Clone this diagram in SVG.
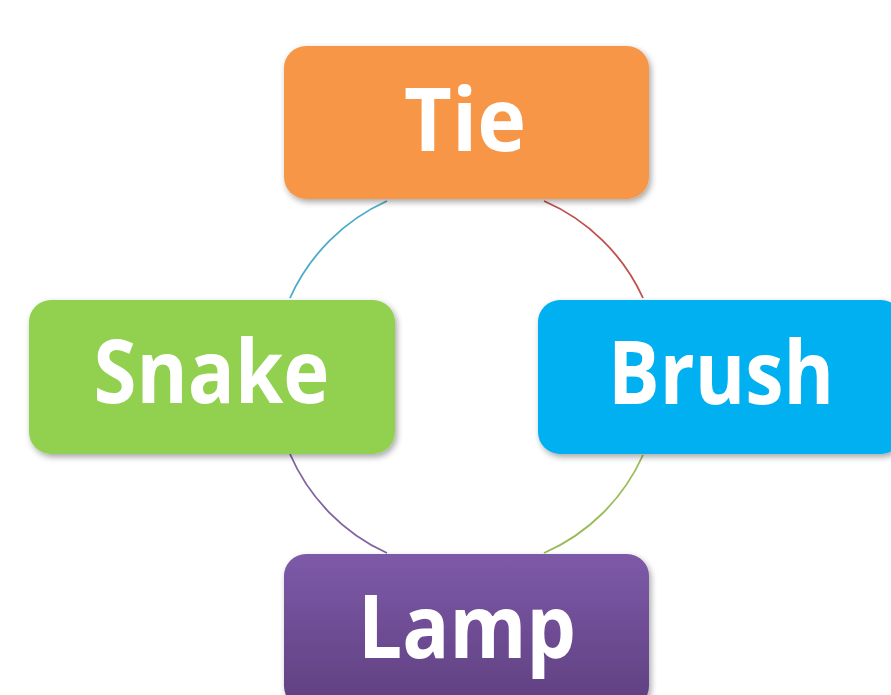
<svg xmlns="http://www.w3.org/2000/svg" width="891" height="695" viewBox="0 0 891 695">
  <defs>
    <filter id="shadow" x="-10%" y="-10%" width="125%" height="130%">
      <feDropShadow dx="2" dy="3" stdDeviation="3" flood-color="#000" flood-opacity="0.35"/>
    </filter>
    <linearGradient id="lampGrad" x1="0" y1="0" x2="0" y2="1">
      <stop offset="0" stop-color="#7D5AA8"/>
      <stop offset="1" stop-color="#5F3F80"/>
    </linearGradient>
    <style>
      .box { filter: url(#shadow); }
      .lbl { font-family: "Open Sans", "Liberation Sans", sans-serif; font-weight: bold; font-size: 88px; fill: #FFFFFF; text-anchor: middle; }
      .arc { fill: none; stroke-width: 1.8; }
    </style>
  </defs>
  <rect width="891" height="695" fill="#FFFFFF"/>
  <g id="connectors">
    <path class="arc" d="M544,201 A193,193 0 0 1 643,298" stroke="#C0504D"/>
    <path class="arc" d="M643,455 A193,193 0 0 1 544,553" stroke="#9BBB59"/>
    <path class="arc" d="M387,553 A193,193 0 0 1 290,454" stroke="#8064A2"/>
    <path class="arc" d="M290,298 A193,193 0 0 1 387,201" stroke="#4BACC6"/>
  </g>
  <g id="tie">
    <rect class="box" x="284" y="46" width="365" height="153" rx="22" fill="#F79646"/>
    <text class="lbl" x="465" y="151" textLength="122" lengthAdjust="spacingAndGlyphs">Tie</text>
  </g>
  <g id="brush">
    <rect class="box" x="538" y="300" width="365" height="154" rx="22" fill="#00B0F0"/>
    <text class="lbl" x="721" y="404" textLength="226" lengthAdjust="spacingAndGlyphs">Brush</text>
  </g>
  <g id="snake">
    <rect class="box" x="29" y="300" width="366" height="154" rx="22" fill="#92D050"/>
    <text class="lbl" x="211.5" y="403" textLength="236" lengthAdjust="spacingAndGlyphs">Snake</text>
  </g>
  <g id="lamp">
    <rect class="box" x="284" y="554" width="365" height="154" rx="22" fill="url(#lampGrad)"/>
    <text class="lbl" x="467" y="658" textLength="218" lengthAdjust="spacingAndGlyphs">Lamp</text>
  </g>
</svg>
